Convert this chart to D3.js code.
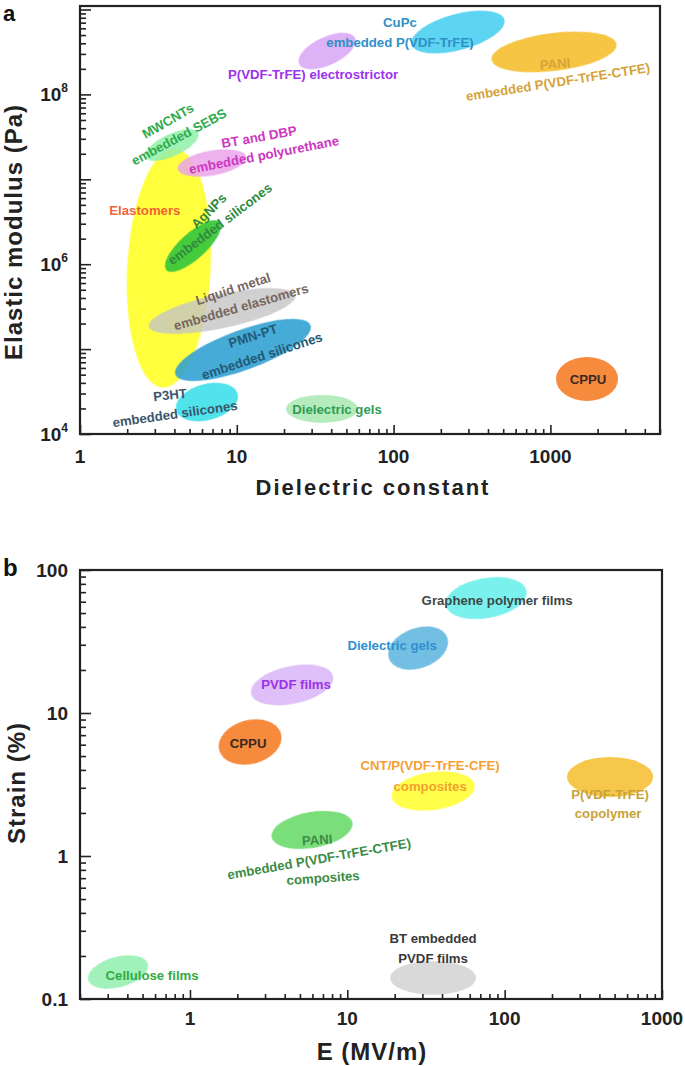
<!DOCTYPE html>
<html>
<head>
<meta charset="utf-8">
<script src="https://cdn.jsdelivr.net/npm/d3@7"></script>
<style>
  body { margin: 0; background: #fff; }
  svg text { font-family: "Liberation Sans", Arial, sans-serif; }
</style>
</head>
<body>
<svg id="chart" width="685" height="1066"></svg>
<script>
// ---- panel a : dielectric constant vs elastic modulus ----
const aMaterials = ["Elastomers", "MWCNTs embedded SEBS", "BT and DBP embedded polyurethane",
  "AgNPs embedded silicones", "Liquid metal embedded elastomers", "PMN-PT embedded silicones",
  "P3HT embedded silicones", "Dielectric gels", "CPPU", "P(VDF-TrFE) electrostrictor",
  "CuPc embedded P(VDF-TrFE)", "PANI embedded P(VDF-TrFE-CTFE)"];
// extent of each region: dielectric constant [lo, hi]
const aEpsilon = [[2.0, 6.8], [2.52, 5.9], [4.16, 11.6], [3.1, 8.9], [2.68, 24.2], [3.81, 31.5],
  [4.04, 10.3], [20.6, 59.3], [1086, 2700], [23.9, 59.3], [127, 521], [418, 2660]];
// elastic modulus in Pa [lo, hi]
const aModulus = [[3.5e4, 2.3e7], [1.88e7, 3.42e7], [1.11e7, 2.18e7], [1.15e6, 2.33e6],
  [1.77e5, 4.46e5], [5.68e4, 1.68e5], [1.46e4, 3.88e4], [1.35e4, 2.88e4], [2.45e4, 8.07e4],
  [2.22e8, 4.74e8], [3.33e8, 8.85e8], [1.89e8, 5.29e8]];
const aXTicks = [1, 10, 100, 1000];
const aYTicks = [1e4, 1e6, 1e8];

// ---- panel b : electric field vs strain ----
const bMaterials = ["Graphene polymer films", "Dielectric gels", "PVDF films", "CPPU",
  "CNT/P(VDF-TrFE-CFE) composites", "P(VDF-TrFE) copolymer",
  "PANI embedded P(VDF-TrFE-CTFE) composites", "Cellulose films", "BT embedded PVDF films"];
const bField = [[41.8, 139], [17.9, 44.4], [2.41, 8.24], [1.51, 3.85], [19.0, 64.9],
  [249, 879], [3.27, 10.9], [0.222, 0.549], [18.7, 65.8]];
const bStrain = [[46.1, 87.9], [20.6, 39.3], [11.6, 21.3], [4.40, 8.93], [2.10, 3.86],
  [2.59, 4.92], [1.14, 2.03], [0.121, 0.197], [0.107, 0.184]];
const bXTicks = [1, 10, 100, 1000];
const bYTicks = [0.1, 1, 10, 100];

// styles
const aFill = ["#ffff3c", "#90f0a8", "#eaa4ea", "#3cc83c", "#c4c4c4", "#2e9fd2",
  "#3ee0ea", "#aeeab6", "#f68a3c", "#d9aaf6", "#4ccff2", "#f6c23a"];
const aAlpha = [1, 0.85, 0.85, 0.95, 0.8, 0.88, 0.9, 0.9, 1, 0.9, 0.9, 0.95];
const aTilt = [3, -25, -10, -42, -12, -20, -15, 0, 0, -25, -15, -7];
const aInk = ["#f06434", "#2faa4c", "#cc38c0", "#2f8a3e", "#76665e", "#225a76",
  "#3b566c", "#2f9d55", "#3a2a22", "#9b32ee", "#2f90c8", "#d6a23a"];
// label lines: [text, dx, dy, angle] relative to the region centre
const aText = [
  [["Elastomers", -24, -58, 0]],
  [["MWCNTs", -4, -24, -30], ["embedded SEBS", 7, -8, -28]],
  [["BT and DBP", 47, -26, -10], ["embedded polyurethane", 52, -8, -11]],
  [["AgNPs", 16, -35, -45], ["embedded silicones", 27, -22, -37]],
  [["Liquid metal", 11, -22, -18], ["embedded elastomers", 19, -4, -16]],
  [["PMN-PT", 10, -14, -18], ["embedded silicones", 19, 6, -18]],
  [["P3HT", -37, -7, -6], ["embedded silicones", -32, 12, -8]],
  [["Dielectric gels", 15, 1, 0]],
  [["CPPU", 1, 1, 0]],
  [["P(VDF-TrFE) electrostrictor", -14, 23, 0]],
  [["CuPc", -58, -10, 0], ["embedded P(VDF-TrFE)", -58, 10, 0]],
  [["PANI", 1, 12, -5], ["embedded P(VDF-TrFE-CTFE)", 4, 30, -9]]
];

const bFill = ["#72f0ec", "#6cbce2", "#dcb8f6", "#f68a3c", "#ffff40", "#f7c442",
  "#72dc72", "#9cf0b6", "#d9d9d9"];
const bAlpha = [0.95, 0.95, 0.9, 1, 0.95, 0.95, 0.95, 0.95, 1];
const bTilt = [-10, -20, -12, -15, -8, 0, -10, -15, 0];
const bInk = ["#3c4848", "#2f90d0", "#9a32e8", "#3a2a22", "#f5a032", "#c9a23a",
  "#3d8c45", "#33aa44", "#3a3a3a"];
const bText = [
  [["Graphene polymer films", 11, 2, 0]],
  [["Dielectric gels", -26, -3, 0]],
  [["PVDF films", 4, 0, 0]],
  [["CPPU", -2, 1, 0]],
  [["CNT/P(VDF-TrFE-CFE)", -3, -26, 0], ["composites", -3, -5, 0]],
  [["P(VDF-TrFE)", 0, 18, 0], ["copolymer", -2, 37, 0]],
  [["PANI", 5, 10, -4], ["embedded P(VDF-TrFE-CTFE)", 7, 29, -10], ["composites", 11, 48, -4]],
  [["Cellulose films", 34, 3, 0]],
  [["BT embedded", 0, -39, 0], ["PVDF films", 0, -19, 0]]
];

const svg = d3.select('#chart');
const ink = '#222';

// soft edges like the scanned figure
svg.append('defs').append('filter').attr('id', 'soft')
  .append('feGaussianBlur').attr('stdDeviation', 0.6);

function minorTicks(scale) {
  return scale.ticks().filter(v => Math.abs(Math.log10(v) - Math.round(Math.log10(v))) > 1e-6);
}

function majorTicks(scale) {
  const [a, b] = scale.domain();
  const out = [];
  for (let e = Math.ceil(Math.log10(a) - 1e-9); e <= Math.floor(Math.log10(b) + 1e-9); e++) out.push(Math.pow(10, e));
  return out;
}

function drawPanel(p) {
  const g = svg.append('g');
  const x = p.x, y = p.y;
  const [x0, x1] = x.range(), [y0, y1] = y.range();

  // regions
  const idx = d3.range(p.names.length);
  const geo = idx.map(i => ({
    cx: (x(p.xs[i][0]) + x(p.xs[i][1])) / 2,
    cy: (y(p.ys[i][0]) + y(p.ys[i][1])) / 2,
    rx: Math.abs(x(p.xs[i][1]) - x(p.xs[i][0])) / 2,
    ry: Math.abs(y(p.ys[i][1]) - y(p.ys[i][0])) / 2
  }));

  g.selectAll('ellipse.region')
    .data(idx)
    .enter()
    .append('ellipse')
    .attr('class', 'region')
    .attr('transform', i => `translate(${geo[i].cx},${geo[i].cy}) rotate(${p.tilt[i]})`)
    .attr('rx', i => geo[i].rx)
    .attr('ry', i => geo[i].ry)
    .attr('fill', i => p.fill[i])
    .attr('fill-opacity', i => p.alpha[i])
    .attr('filter', 'url(#soft)');

  idx.forEach(i => {
    p.text[i].forEach(([t, dx, dy, ang]) => {
      g.append('text')
        .attr('transform', `translate(${geo[i].cx + dx},${geo[i].cy + dy}) rotate(${ang})`)
        .attr('text-anchor', 'middle')
        .attr('dominant-baseline', 'central')
        .style('font-size', '13.2px')
        .style('font-weight', 'bold')
        .attr('fill', p.ink[i])
        .text(t);
    });
  });

  // ticks (inward)
  const bottom = g.append('g').attr('transform', `translate(0,${y0})`);
  bottom.call(d3.axisBottom(x).tickValues(minorTicks(x)).tickSize(-5).tickFormat(''));
  bottom.append('g').call(d3.axisBottom(x).tickValues(majorTicks(x)).tickSize(-9).tickFormat(''));
  const left = g.append('g').attr('transform', `translate(${x0},0)`);
  left.call(d3.axisLeft(y).tickValues(minorTicks(y)).tickSize(-6).tickFormat(''));
  left.append('g').call(d3.axisLeft(y).tickValues(majorTicks(y)).tickSize(-11).tickFormat(''));
  g.selectAll('.domain').remove();
  g.selectAll('.tick line').attr('stroke', ink).attr('stroke-width', 1.6);

  // frame
  g.append('rect')
    .attr('x', x0).attr('y', y1)
    .attr('width', x1 - x0).attr('height', y0 - y1)
    .attr('fill', 'none').attr('stroke', ink).attr('stroke-width', 2.2);

  // tick labels
  g.selectAll('text.xt')
    .data(p.xTicks)
    .enter()
    .append('text')
    .attr('class', 'xt')
    .attr('x', d => x(d))
    .attr('y', y0 + p.xLabelGap)
    .attr('text-anchor', 'middle')
    .style('font-size', '19px')
    .style('font-weight', 'bold')
    .attr('fill', ink)
    .text(d => d);

  const yt = g.selectAll('text.yt')
    .data(p.yTicks)
    .enter()
    .append('text')
    .attr('class', 'yt')
    .attr('x', x0 - 12)
    .attr('y', d => y(d) + 7)
    .attr('text-anchor', 'end')
    .style('font-size', '19px')
    .style('font-weight', 'bold')
    .attr('fill', ink);
  if (p.power) {
    yt.text('10').append('tspan')
      .attr('dy', -9)
      .style('font-size', '12px')
      .text(d => Math.round(Math.log10(d)));
  } else {
    yt.text(d => d);
  }

  // axis titles
  g.append('text')
    .attr('x', (x0 + x1) / 2 + p.xTitleShift)
    .attr('y', p.xTitleY)
    .attr('text-anchor', 'middle')
    .style('font-size', p.xTitleSize + 'px')
    .style('font-weight', 'bold')
    .style('letter-spacing', p.xTitleSpacing + 'px')
    .attr('fill', ink)
    .text(p.xTitle);

  g.append('text')
    .attr('transform', `translate(${p.yTitleX},${p.yTitleY}) rotate(-90)`)
    .attr('text-anchor', 'middle')
    .style('font-size', '24px')
    .style('font-weight', 'bold')
    .style('letter-spacing', '1px')
    .attr('fill', ink)
    .text(p.yTitle);

  // panel letter
  g.append('text')
    .attr('x', 3).attr('y', p.letterY)
    .style('font-size', p.letterSize + 'px')
    .style('font-weight', 'bold')
    .attr('fill', '#111')
    .text(p.letter);
}

drawPanel({
  letter: 'a', letterY: 21, letterSize: 22,
  names: aMaterials, xs: aEpsilon, ys: aModulus,
  fill: aFill, alpha: aAlpha, tilt: aTilt, ink: aInk, text: aText,
  x: d3.scaleLog().domain([1, 5000]).range([80, 660]),
  y: d3.scaleLog().domain([1e4, 1.1e9]).range([434, 6]),
  xTicks: aXTicks, yTicks: aYTicks, power: true, xLabelGap: 29,
  xTitle: 'Dielectric constant', xTitleY: 495, xTitleSize: 22, xTitleSpacing: 2, xTitleShift: 3,
  yTitle: 'Elastic modulus (Pa)', yTitleX: 22, yTitleY: 232
});

drawPanel({
  letter: 'b', letterY: 576, letterSize: 24,
  names: bMaterials, xs: bField, ys: bStrain,
  fill: bFill, alpha: bAlpha, tilt: bTilt, ink: bInk, text: bText,
  x: d3.scaleLog().domain([0.2, 1000]).range([80, 662]),
  y: d3.scaleLog().domain([0.1, 100]).range([999, 570]),
  xTicks: bXTicks, yTicks: bYTicks, power: false, xLabelGap: 26,
  xTitle: 'E (MV/m)', xTitleY: 1060, xTitleSize: 24, xTitleSpacing: 1, xTitleShift: 1,
  yTitle: 'Strain (%)', yTitleX: 25, yTitleY: 783
});
</script>
</body>
</html>
